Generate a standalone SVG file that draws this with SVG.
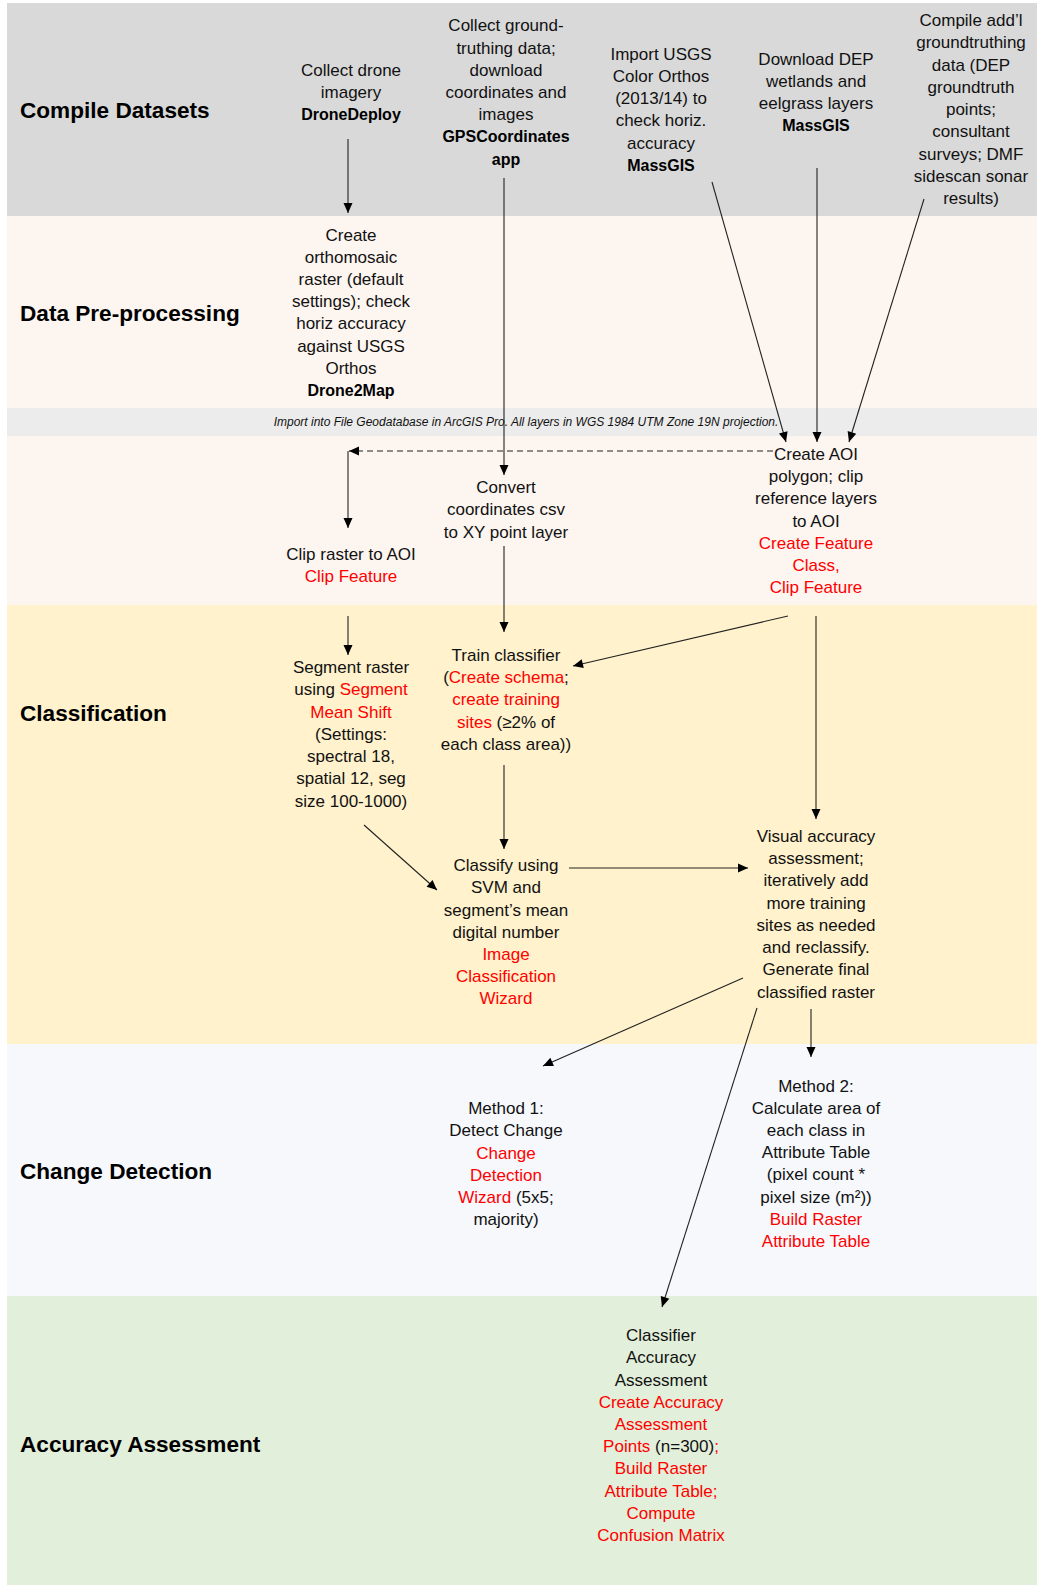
<svg xmlns="http://www.w3.org/2000/svg" width="1037" height="1585" viewBox="0 0 1037 1585">
<defs>
<style>
text{font-family:"Liberation Sans",Arial,sans-serif;fill:#111;}
.lbl{font-size:22.6px;font-weight:bold;fill:#000;}
.t{font-size:17px;text-anchor:middle;}
.b{font-weight:bold;font-size:16px;fill:#000;}
.r{fill:#ff0000;}
.it{font-size:12px;font-style:italic;text-anchor:middle;}
.c{stroke:#222;stroke-width:1.1;fill:none;marker-end:url(#ah);}
.d{stroke:#222;stroke-width:1.1;fill:none;stroke-dasharray:6 4;marker-end:url(#ah);}
</style>
<marker id="ah" viewBox="0 0 10 10" refX="10" refY="5" markerWidth="11" markerHeight="10" markerUnits="userSpaceOnUse" orient="auto">
<path d="M0,0.5 L10,5 L0,9.5 z" fill="#000"/>
</marker>
</defs>
<rect width="1037" height="1585" fill="#ffffff"/>
<g id="bands">
<rect x="7" y="3" width="1030" height="213" fill="#d9d9d9"/>
<rect x="7" y="216" width="1030" height="192" fill="#fdf5f0"/>
<rect x="7" y="408" width="1030" height="28" fill="#ececec"/>
<rect x="7" y="436" width="1030" height="169" fill="#fdf5f0"/>
<rect x="7" y="605" width="1030" height="439" fill="#fff2cc"/>
<rect x="7" y="1044" width="1030" height="252" fill="#f6f8fc"/>
<rect x="7" y="1296" width="1030" height="289" fill="#e2efda"/>
<text class="lbl" x="20" y="118">Compile Datasets</text>
<text class="lbl" x="20" y="321">Data Pre-processing</text>
<text class="lbl" x="20" y="721">Classification</text>
<text class="lbl" x="20" y="1179">Change Detection</text>
<text class="lbl" x="20" y="1452">Accuracy Assessment</text>
<text class="it" x="526" y="426">Import into File Geodatabase in ArcGIS Pro. All layers in WGS 1984 UTM Zone 19N projection.</text>
</g>
<g id="n-drone"><text class="t" x="351"><tspan x="351" y="76">Collect drone</tspan><tspan x="351" y="98">imagery</tspan><tspan x="351" y="120" class="b">DroneDeploy</tspan></text></g>
<g id="n-gps"><text class="t" x="506"><tspan x="506" y="31">Collect ground-</tspan><tspan x="506" y="53.5">truthing data;</tspan><tspan x="506" y="75.7">download</tspan><tspan x="506" y="98">coordinates and</tspan><tspan x="506" y="120">images</tspan><tspan x="506" y="142.4" class="b">GPSCoordinates</tspan><tspan x="506" y="164.7" class="b">app</tspan></text></g>
<g id="n-usgs"><text class="t" x="661"><tspan x="661" y="59.6">Import USGS</tspan><tspan x="661" y="81.8">Color Orthos</tspan><tspan x="661" y="104">(2013/14) to</tspan><tspan x="661" y="126.3">check horiz.</tspan><tspan x="661" y="148.5">accuracy</tspan><tspan x="661" y="170.8" class="b">MassGIS</tspan></text></g>
<g id="n-dep"><text class="t" x="816"><tspan x="816" y="64.6">Download DEP</tspan><tspan x="816" y="86.9">wetlands and</tspan><tspan x="816" y="109">eelgrass layers</tspan><tspan x="816" y="131.3" class="b">MassGIS</tspan></text></g>
<g id="n-addl"><text class="t" x="971"><tspan x="971" y="26">Compile add’l</tspan><tspan x="971" y="48.3">groundtruthing</tspan><tspan x="971" y="70.5">data (DEP</tspan><tspan x="971" y="92.8">groundtruth</tspan><tspan x="971" y="115">points;</tspan><tspan x="971" y="137.3">consultant</tspan><tspan x="971" y="159.5">surveys; DMF</tspan><tspan x="971" y="181.8">sidescan sonar</tspan><tspan x="971" y="204">results)</tspan></text></g>
<g id="n-ortho"><text class="t" x="351"><tspan x="351" y="240.5">Create</tspan><tspan x="351" y="262.7">orthomosaic</tspan><tspan x="351" y="285">raster (default</tspan><tspan x="351" y="307.2">settings); check</tspan><tspan x="351" y="329.4">horiz accuracy</tspan><tspan x="351" y="351.7">against USGS</tspan><tspan x="351" y="373.9">Orthos</tspan><tspan x="351" y="396.1" class="b">Drone2Map</tspan></text></g>
<g id="n-clip"><text class="t" x="351"><tspan x="351" y="560">Clip raster to AOI</tspan><tspan x="351" y="582" class="r">Clip Feature</tspan></text></g>
<g id="n-convert"><text class="t" x="506"><tspan x="506" y="493">Convert</tspan><tspan x="506" y="515.4">coordinates csv</tspan><tspan x="506" y="537.6">to XY point layer</tspan></text></g>
<g id="n-aoi"><text class="t" x="816"><tspan x="816" y="460">Create AOI</tspan><tspan x="816" y="482.2">polygon; clip</tspan><tspan x="816" y="504.4">reference layers</tspan><tspan x="816" y="526.6">to AOI</tspan><tspan x="816" y="548.9" class="r">Create Feature</tspan><tspan x="816" y="571.1" class="r">Class,</tspan><tspan x="816" y="593.3" class="r">Clip Feature</tspan></text></g>
<g id="n-segment"><text class="t" x="351"><tspan x="351" y="673">Segment raster</tspan><tspan x="351" y="695.2">using <tspan class="r">Segment</tspan></tspan><tspan x="351" y="717.5" class="r">Mean Shift</tspan><tspan x="351" y="739.7">(Settings:</tspan><tspan x="351" y="762">spectral 18,</tspan><tspan x="351" y="784.2">spatial 12, seg</tspan><tspan x="351" y="806.5">size 100-1000)</tspan></text></g>
<g id="n-train"><text class="t" x="506"><tspan x="506" y="661">Train classifier</tspan><tspan x="506" y="683.2">(<tspan class="r">Create schema</tspan>;</tspan><tspan x="506" y="705.4" class="r">create training</tspan><tspan x="506" y="727.7"><tspan class="r">sites</tspan> (≥2% of</tspan><tspan x="506" y="749.9">each class area))</tspan></text></g>
<g id="n-classify"><text class="t" x="506"><tspan x="506" y="871">Classify using</tspan><tspan x="506" y="893.2">SVM and</tspan><tspan x="506" y="915.5">segment’s mean</tspan><tspan x="506" y="937.7">digital number</tspan><tspan x="506" y="960" class="r">Image</tspan><tspan x="506" y="982.2" class="r">Classification</tspan><tspan x="506" y="1004.4" class="r">Wizard</tspan></text></g>
<g id="n-visual"><text class="t" x="816"><tspan x="816" y="842">Visual accuracy</tspan><tspan x="816" y="864.2">assessment;</tspan><tspan x="816" y="886.4">iteratively add</tspan><tspan x="816" y="908.7">more training</tspan><tspan x="816" y="930.9">sites as needed</tspan><tspan x="816" y="953.2">and reclassify.</tspan><tspan x="816" y="975.4">Generate final</tspan><tspan x="816" y="997.6">classified raster</tspan></text></g>
<g id="n-method1"><text class="t" x="506"><tspan x="506" y="1114">Method 1:</tspan><tspan x="506" y="1136.2">Detect Change</tspan><tspan x="506" y="1158.5" class="r">Change</tspan><tspan x="506" y="1180.7" class="r">Detection</tspan><tspan x="506" y="1203"><tspan class="r">Wizard</tspan> (5x5;</tspan><tspan x="506" y="1225.2">majority)</tspan></text></g>
<g id="n-method2"><text class="t" x="816"><tspan x="816" y="1091.5">Method 2:</tspan><tspan x="816" y="1113.7">Calculate area of</tspan><tspan x="816" y="1136">each class in</tspan><tspan x="816" y="1158.2">Attribute Table</tspan><tspan x="816" y="1180.4">(pixel count *</tspan><tspan x="816" y="1202.7">pixel size (m²))</tspan><tspan x="816" y="1225" class="r">Build Raster</tspan><tspan x="816" y="1247.2" class="r">Attribute Table</tspan></text></g>
<g id="n-accuracy"><text class="t" x="661"><tspan x="661" y="1341">Classifier</tspan><tspan x="661" y="1363.2">Accuracy</tspan><tspan x="661" y="1385.5">Assessment</tspan><tspan x="661" y="1407.7" class="r">Create Accuracy</tspan><tspan x="661" y="1430" class="r">Assessment</tspan><tspan x="661" y="1452.2"><tspan class="r">Points</tspan> (n=300)<tspan class="r">;</tspan></tspan><tspan x="661" y="1474.4" class="r">Build Raster</tspan><tspan x="661" y="1496.7" class="r">Attribute Table;</tspan><tspan x="661" y="1518.9" class="r">Compute</tspan><tspan x="661" y="1541.2" class="r">Confusion Matrix</tspan></text></g>
<g id="connectors">
<line class="c" x1="348" y1="139" x2="348" y2="213"/>
<line class="c" x1="504" y1="178" x2="504" y2="475"/>
<line class="c" x1="712" y1="182" x2="786" y2="442"/>
<line class="c" x1="817" y1="168" x2="817" y2="442"/>
<line class="c" x1="924" y1="199" x2="849" y2="442"/>
<line class="d" x1="773" y1="451" x2="349" y2="451"/>
<line class="c" x1="348" y1="451" x2="348" y2="528"/>
<line class="c" x1="504" y1="546" x2="504" y2="632"/>
<line class="c" x1="348" y1="616" x2="348" y2="655"/>
<line class="c" x1="788" y1="616" x2="573" y2="666"/>
<line class="c" x1="816" y1="616" x2="816" y2="819"/>
<line class="c" x1="504" y1="765" x2="504" y2="849"/>
<line class="c" x1="364" y1="825" x2="437" y2="890"/>
<line class="c" x1="569" y1="868" x2="748" y2="868"/>
<line class="c" x1="743" y1="978" x2="543" y2="1066"/>
<line class="c" x1="757" y1="1008" x2="662" y2="1307"/>
<line class="c" x1="811" y1="1009" x2="811" y2="1057"/>
</g>
</svg>
